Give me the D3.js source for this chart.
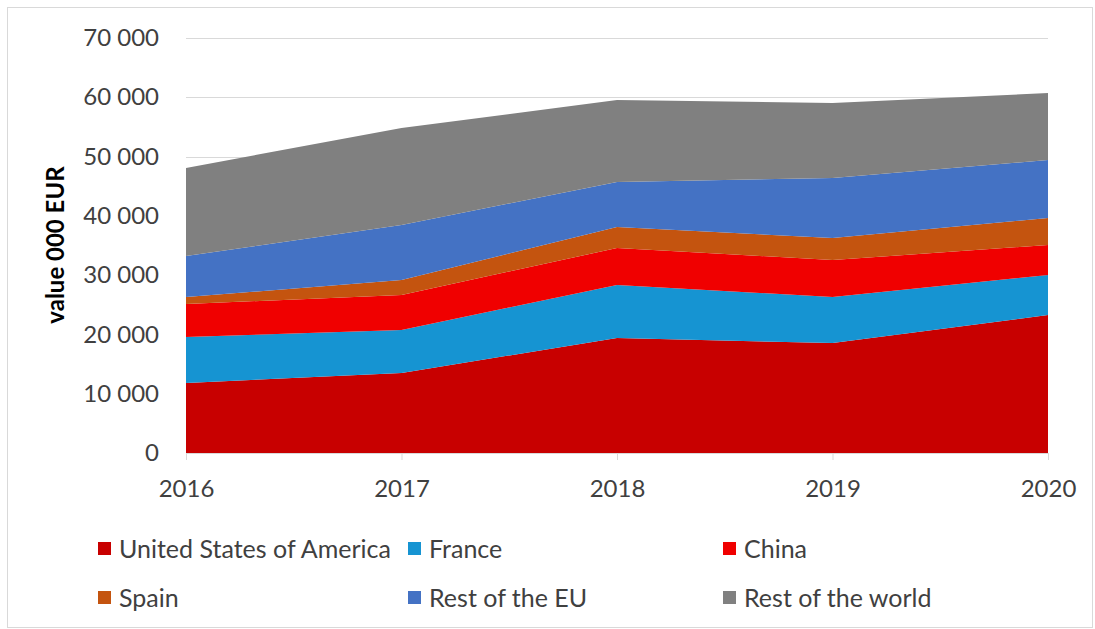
<!DOCTYPE html>
<html>
<head>
<meta charset="utf-8">
<script src="https://cdn.jsdelivr.net/npm/d3@7"></script>
<style>
  body { margin: 0; background: #fff; }
  svg text { font-family: Lato, "Open Sans", sans-serif; fill: #404040; }
</style>
</head>
<body>
<div id="chart"></div>
<script>
// values in thousand EUR
const years = [2016, 2017, 2018, 2019, 2020];
const usa = [11800, 13500, 19400, 18550, 23270];
const france = [7760, 7250, 8940, 7760, 6750];
const china = [5570, 5900, 6240, 6240, 5060];
const spain = [1180, 2530, 3540, 3710, 4550];
const restEU = [6920, 9280, 7590, 10120, 9780];
const restWorld = [14850, 16360, 13830, 12650, 11300];

const seriesNames = ['United States of America', 'France', 'China', 'Spain', 'Rest of the EU', 'Rest of the world'];
const seriesValues = [usa, france, china, spain, restEU, restWorld];
const seriesColors = ['#C80000', '#1694D2', '#F00000', '#C4540F', '#4472C4', '#808080'];
const yTicks = [0, 10000, 20000, 30000, 40000, 50000, 60000, 70000];

const W = 1095, H = 629;
const svg = d3.select('#chart').append('svg')
  .attr('width', W)
  .attr('height', H);

// chart frame
svg.append('rect')
  .attr('x', 7.5).attr('y', 7.5)
  .attr('width', W - 10).attr('height', H - 9)
  .attr('fill', 'none')
  .attr('stroke', '#D9D9D9');

const x = d3.scaleLinear().domain([2016, 2020]).range([186, 1048]);
const y = d3.scaleLinear().domain([0, 70000]).range([453, 38]);

const rows = years.map((yr, i) => {
  const r = {year: yr};
  seriesNames.forEach((n, k) => { r[n] = seriesValues[k][i]; });
  return r;
});

const stacked = d3.stack().keys(seriesNames)(rows);

// gridlines
svg.append('g')
  .selectAll('line')
  .data(yTicks.slice(1))
  .enter()
  .append('line')
    .attr('x1', x(2016)).attr('x2', x(2020))
    .attr('y1', d => Math.round(y(d)) + 0.5)
    .attr('y2', d => Math.round(y(d)) + 0.5)
    .attr('stroke', '#D9D9D9');

const area = d3.area()
  .x(d => x(d.data.year))
  .y0(d => y(d[0]))
  .y1(d => y(d[1]));

svg.append('g')
  .selectAll('path')
  .data(stacked)
  .enter()
  .append('path')
    .attr('d', area)
    .attr('fill', (d, i) => seriesColors[i]);

// x axis
const xAxis = d3.axisBottom(x)
  .tickValues(years)
  .tickFormat(d3.format('d'))
  .tickSize(7)
  .tickPadding(20);

const gx = svg.append('g')
  .attr('transform', `translate(0,${y(0)})`)
  .call(xAxis);
gx.select('.domain').attr('stroke', '#D9D9D9');
gx.selectAll('.tick line').attr('stroke', '#D9D9D9');
gx.selectAll('.tick text')
  .attr('font-size', 24)
  .style('fill', '#404040');

// y axis
const yAxis = d3.axisLeft(y)
  .tickValues(yTicks)
  .tickFormat(d => d === 0 ? '0' : d3.format(',')(d).replace(/,/g, ' '))
  .tickSize(0)
  .tickPadding(27);

const gy = svg.append('g')
  .attr('transform', `translate(${x(2016)},0)`)
  .call(yAxis);
gy.select('.domain').remove();
gy.selectAll('.tick text')
  .attr('font-size', 24)
  .style('fill', '#404040');

svg.append('text')
  .attr('transform', 'translate(64,245) rotate(-90)')
  .attr('text-anchor', 'middle')
  .attr('font-size', 24)
  .attr('font-weight', 'bold')
  .style('fill', '#000')
  .text('value 000 EUR');

// legend
const legendX = [98, 408, 723];
const legendY = [548, 597];
const legend = svg.append('g')
  .selectAll('g')
  .data(seriesNames)
  .enter()
  .append('g')
    .attr('transform', (d, i) => `translate(${legendX[i % 3]},${legendY[Math.floor(i / 3)]})`);

legend.append('rect')
  .attr('x', 0).attr('y', -6)
  .attr('width', 13).attr('height', 13)
  .attr('fill', (d, i) => seriesColors[i]);

legend.append('text')
  .attr('x', 21)
  .attr('y', 1)
  .attr('dy', '0.35em')
  .attr('font-size', 25)
  .text(d => d);
</script>
</body>
</html>
